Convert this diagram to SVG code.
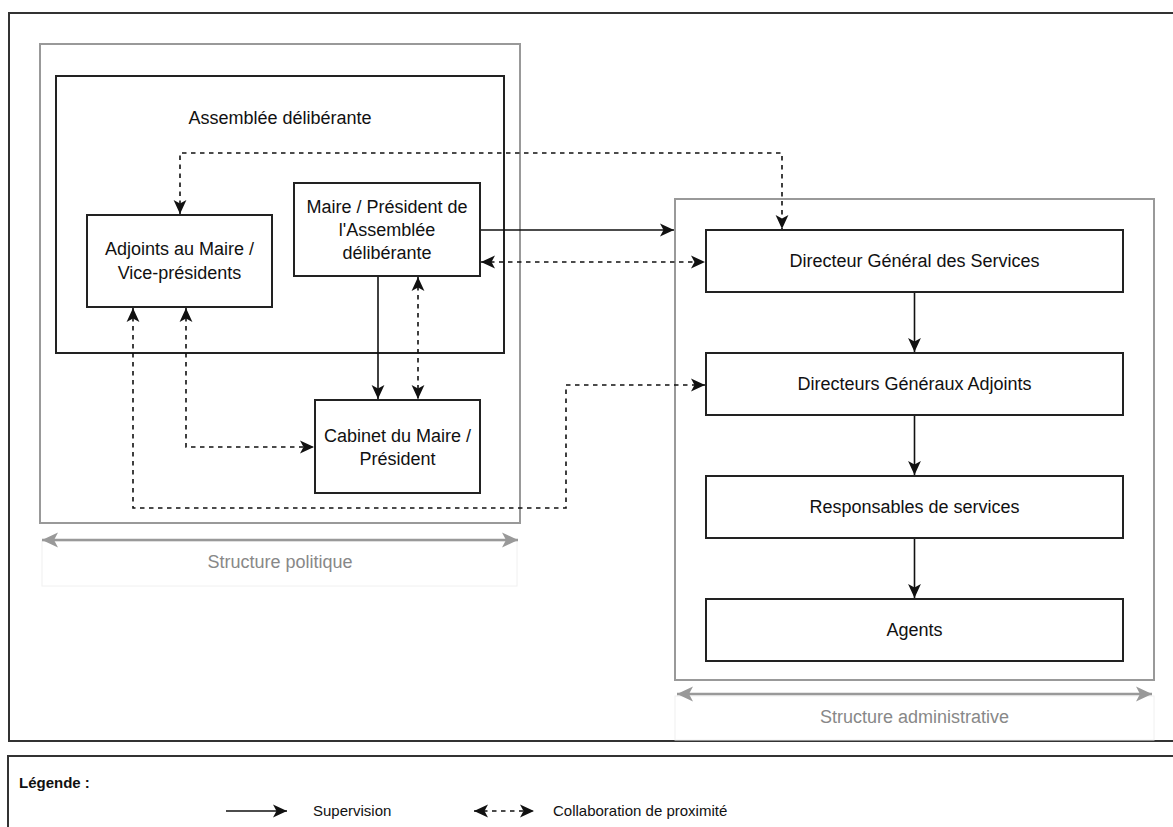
<svg xmlns="http://www.w3.org/2000/svg" width="1173" height="827" viewBox="0 0 1173 827">
<style>
  .frame{fill:#fff;stroke:#333;stroke-width:2}
  .group{fill:none;stroke:#999;stroke-width:2}
  .node{fill:#fff;stroke:#222;stroke-width:2}
  .asm{fill:none;stroke:#222;stroke-width:2}
  .t{font-family:"Liberation Sans",Arial,Helvetica,sans-serif;font-size:18px;fill:#111;text-anchor:middle}
  .g{font-family:"Liberation Sans",Arial,Helvetica,sans-serif;font-size:18px;fill:#888;text-anchor:middle}
  .leg{font-family:"Liberation Sans",Arial,Helvetica,sans-serif;font-size:15px;fill:#111}
  .sol{fill:none;stroke:#111;stroke-width:1.6;marker-end:url(#ah)}
  .dash{fill:none;stroke:#111;stroke-width:1.6;stroke-dasharray:4.5 4.5;marker-start:url(#ah);marker-end:url(#ah)}
  .garr{fill:none;stroke:#999;stroke-width:2.5;marker-start:url(#gah);marker-end:url(#gah)}
  .faint{fill:none;stroke:#f0f0f0;stroke-width:1}
</style>
<defs>
  <marker id="ah" markerUnits="userSpaceOnUse" markerWidth="14" markerHeight="14" viewBox="0 0 12 11" refX="12" refY="5.5" orient="auto-start-reverse">
    <path d="M0,0 L12,5.5 L0,11 L3,5.5 Z" fill="#111"/>
  </marker>
  <marker id="gah" markerUnits="userSpaceOnUse" markerWidth="16" markerHeight="16" viewBox="0 0 14 13" refX="14" refY="6.5" orient="auto-start-reverse">
    <path d="M0,0 L14,6.5 L0,13 L3.5,6.5 Z" fill="#999"/>
  </marker>
</defs>
<rect width="1173" height="827" fill="#fff"/>
<g id="cadre-principal"><rect class="frame" x="9" y="13" width="1170" height="728"/></g>
<g id="structure-politique">
  <rect class="group" x="40" y="44" width="480" height="479"/>
  <rect class="faint" x="42" y="541" width="475" height="45"/>
  <path class="garr" d="M42,540 H518"/>
  <text class="g" x="280" y="568">Structure politique</text>
</g>
<g id="structure-administrative">
  <rect class="group" x="675" y="199" width="479" height="481"/>
  <rect class="faint" x="675" y="696" width="479" height="44"/>
  <path class="garr" d="M677,694 H1152"/>
  <text class="g" x="914.5" y="723">Structure administrative</text>
</g>
<g id="assemblee">
  <rect class="asm" x="56" y="76" width="448" height="277"/>
  <text class="t" x="280" y="124">Assemblée délibérante</text>
</g>
<g id="adjoints">
  <rect class="node" x="87" y="215" width="185" height="92"/>
  <text class="t" x="179.5" y="255">Adjoints au Maire /</text>
  <text class="t" x="179.5" y="279">Vice-présidents</text>
</g>
<g id="maire">
  <rect class="node" x="294" y="183" width="186" height="93"/>
  <text class="t" x="387" y="213">Maire / Président de</text>
  <text class="t" x="387" y="236">l'Assemblée</text>
  <text class="t" x="387" y="259">délibérante</text>
</g>
<g id="cabinet">
  <rect class="node" x="315" y="400" width="165" height="93"/>
  <text class="t" x="397.5" y="442">Cabinet du Maire /</text>
  <text class="t" x="397.5" y="465">Président</text>
</g>
<g id="dgs">
  <rect class="node" x="706" y="230" width="417" height="62"/>
  <text class="t" x="914.5" y="267">Directeur Général des Services</text>
</g>
<g id="dga">
  <rect class="node" x="706" y="353" width="417" height="62"/>
  <text class="t" x="914.5" y="390">Directeurs Généraux Adjoints</text>
</g>
<g id="responsables">
  <rect class="node" x="706" y="476" width="417" height="62"/>
  <text class="t" x="914.5" y="513">Responsables de services</text>
</g>
<g id="agents">
  <rect class="node" x="706" y="599" width="417" height="62"/>
  <text class="t" x="914.5" y="636">Agents</text>
</g>
<g id="connecteurs">
  <path class="sol" d="M481,230 H674"/>
  <path class="dash" d="M481,262 H705"/>
  <path class="dash" d="M180,214 V153 H782 V229"/>
  <path class="sol" d="M378,277 V399"/>
  <path class="dash" d="M418,277 V399"/>
  <path class="dash" d="M186,308 V447 H314"/>
  <path class="dash" d="M133,308 V508 H566 V385 H705"/>
  <path class="sol" d="M914.5,293 V352"/>
  <path class="sol" d="M914.5,416 V475"/>
  <path class="sol" d="M914.5,539 V598"/>
</g>
<g id="legende">
  <rect class="frame" x="8" y="756" width="1175" height="80"/>
  <text class="leg" x="19" y="788" font-weight="bold">Légende :</text>
  <path class="sol" d="M226,811 H287"/>
  <text class="leg" x="313" y="816">Supervision</text>
  <path class="dash" d="M474,811 H534"/>
  <text class="leg" x="553" y="816">Collaboration de proximité</text>
</g>
</svg>
